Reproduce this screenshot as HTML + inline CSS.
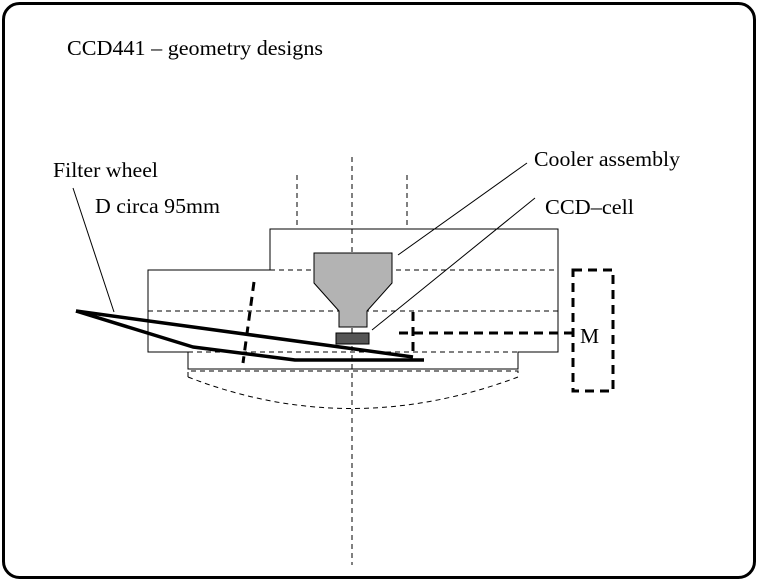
<!DOCTYPE html>
<html><head><meta charset="utf-8"><style>
html,body{margin:0;padding:0;background:#fff;}
svg{display:block;}
text{font-family:"Liberation Serif",serif;font-size:21.5px;fill:#000;}
</style></head><body>
<svg width="759" height="582" viewBox="0 0 759 582" xmlns="http://www.w3.org/2000/svg">
<rect x="3.5" y="3.5" width="751" height="574" rx="16" fill="none" stroke="#000" stroke-width="3"/>
<text x="67" y="55" textLength="256" lengthAdjust="spacingAndGlyphs">CCD441 – geometry designs</text>
<text x="53" y="177" textLength="105" lengthAdjust="spacingAndGlyphs">Filter wheel</text>
<text x="95" y="213" textLength="125" lengthAdjust="spacingAndGlyphs">D circa 95mm</text>
<text x="534" y="166" textLength="146" lengthAdjust="spacingAndGlyphs">Cooler assembly</text>
<text x="545" y="214" textLength="89" lengthAdjust="spacingAndGlyphs">CCD–cell</text>
<text x="580" y="343">M</text>
<g fill="none" stroke="#000" stroke-width="1">
<path d="M270,270 V229 H558 V352 H518 V369 H188 V352 H148 V270 Z"/>
</g>
<g fill="none" stroke="#000" stroke-width="1" stroke-dasharray="5,4">
<line x1="270" y1="270" x2="558" y2="270"/>
<line x1="148" y1="311" x2="558" y2="311"/>
<line x1="188" y1="352" x2="518" y2="352"/>
<path d="M188,377 V371 H518 V377"/>
<path d="M188,377 Q350,440 518,377"/>
<line x1="352" y1="157" x2="352" y2="565"/>
<line x1="297" y1="175" x2="297" y2="226"/>
<line x1="407" y1="175" x2="407" y2="226"/>
</g>
<path d="M314,253 H392 V283 L367,311 V327 H339 V311 L314,283 Z" fill="#b3b3b3" stroke="#000" stroke-width="1"/>
<rect x="336" y="333" width="33" height="11" fill="#555" stroke="#000" stroke-width="1"/>
<g stroke="#000" stroke-width="1" fill="none">
<line x1="398" y1="255" x2="527" y2="163"/>
<line x1="372" y1="330" x2="535" y2="198"/>
<line x1="73" y1="188" x2="114" y2="312"/>
</g>
<g stroke="#000" stroke-width="3.5" fill="none" stroke-linejoin="round">
<path d="M76,311 L413,357"/>
<path d="M76,311 L193,347 L295,360 L424,360"/>
</g>
<g stroke="#000" stroke-width="3" fill="none" stroke-dasharray="9,6">
<line x1="254" y1="282" x2="243" y2="363"/>
<line x1="413" y1="312" x2="413" y2="357"/>
<line x1="399" y1="333" x2="573" y2="333"/>
<rect x="573" y="270" width="40" height="121"/>
</g>
</svg>
</body></html>
